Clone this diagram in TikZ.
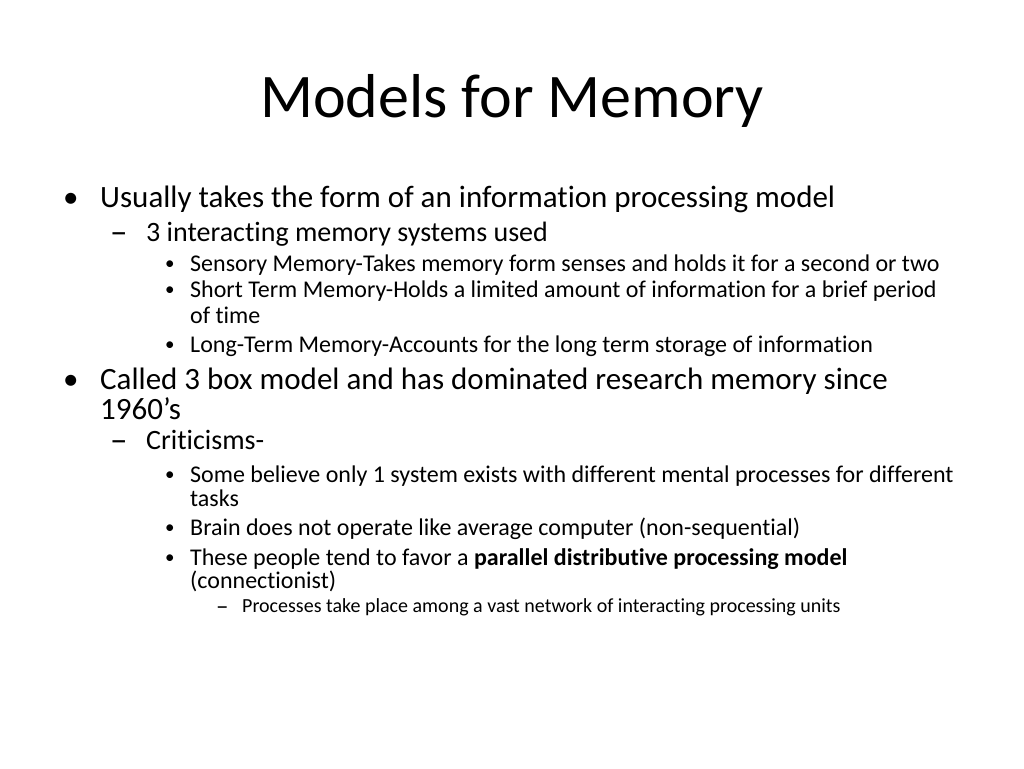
\documentclass[tikz,border=0pt]{standalone}
\usepackage{fontspec}
\setmainfont{Carlito}[RawFeature={-liga;-clig;-dlig;-rlig;-ccmp;-calt}]
\newcommand{\IndentOne}{100}
\newcommand{\IndentTwo}{146}
\newcommand{\IndentThree}{190}
\newcommand{\IndentFour}{242}
\tikzset{TitleText/.style={
    inner sep=0pt,
    anchor=base,
    font=\fontsize{62}{70}\selectfont
    }
}
\tikzset{LevelOne/.style={
    inner sep=0pt,
    anchor=base west,
    font=\fontsize{31}{35}\selectfont
    }
}
\tikzset{LevelTwo/.style={
    inner sep=0pt,
    anchor=base west,
    font=\fontsize{28}{32}\selectfont
    }
}
\tikzset{LevelThree/.style={
    inner sep=0pt,
    anchor=base west,
    font=\fontsize{24}{28}\selectfont
    }
}
\tikzset{LevelFour/.style={
    inner sep=0pt,
    anchor=base west,
    font=\fontsize{20}{24}\selectfont
    }
}
\tikzset{DotThree/.style={
    inner sep=0pt,
    anchor=base west,
    font=\fontsize{19}{24}\selectfont
    }
}
\tikzset{DashTwo/.style={
    inner sep=0pt,
    anchor=base west,
    font=\fontsize{35}{40}\selectfont
    }
}
\tikzset{DashFour/.style={
    inner sep=0pt,
    anchor=base west,
    font=\fontsize{25}{30}\selectfont
    }
}
\begin{document}
\begin{tikzpicture}[x=1pt, y=-1pt]

    \useasboundingbox[fill=white] (0,0) rectangle (1024,768);

    \node (Title)[TitleText] at (512,117) {Models for Memory};

    % first point
    \node (Usually)[LevelOne] at (\IndentOne,207) {Usually takes the form of an information processing model};
    \node (UsuallyDot)[LevelOne] at (63,207) {•};

    \node (Systems)[LevelTwo] at (\IndentTwo,241) {3 interacting memory systems used};
    \node (SystemsDash)[DashTwo] at (110,243) {–};

    \node (Sensory)[LevelThree] at (\IndentThree,271) {Sensory Memory-Takes memory form senses and holds it for a second or two};
    \node (SensoryDot)[DotThree] at (165,269) {•};

    \node (Short)[LevelThree] at (\IndentThree,297) {Short Term Memory-Holds a limited amount of information for a brief period};
    \node (ShortDot)[DotThree] at (165,295) {•};
    \node (ShortCont)[LevelThree] at (\IndentThree,323) {of time};

    \node (Long)[LevelThree] at (\IndentThree,352) {Long-Term Memory-Accounts for the long term storage of information};
    \node (LongDot)[DotThree] at (165,350) {•};

    % second point
    \node (Called)[LevelOne] at (\IndentOne,389) {Called 3 box model and has dominated research memory since};
    \node (CalledDot)[LevelOne] at (63,389) {•};
    \node (CalledCont)[LevelOne] at (\IndentOne,419) {1960’s};

    \node (Criticisms)[LevelTwo] at (\IndentTwo,449) {Criticisms-};
    \node (CriticismsDash)[DashTwo] at (110,451) {–};

    \node (Some)[LevelThree] at (\IndentThree,482) {Some believe only 1 system exists with different mental processes for different};
    \node (SomeDot)[DotThree] at (165,480) {•};
    \node (SomeCont)[LevelThree] at (\IndentThree,506) {tasks};

    \node (Brain)[LevelThree] at (\IndentThree,535) {Brain does not operate like average computer (non-sequential)};
    \node (BrainDot)[DotThree] at (165,533) {•};

    \node (These)[LevelThree] at (\IndentThree,565) {These people tend to favor a \textbf{parallel distributive processing model}};
    \node (TheseDot)[DotThree] at (165,563) {•};
    \node (TheseCont)[LevelThree] at (\IndentThree,588) {(connectionist)};

    \node (Processes)[LevelFour] at (\IndentFour,612) {Processes take place among a vast network of interacting processing units};
    \node (ProcessesDash)[DashFour] at (216,614) {–};

\end{tikzpicture}
\end{document}
